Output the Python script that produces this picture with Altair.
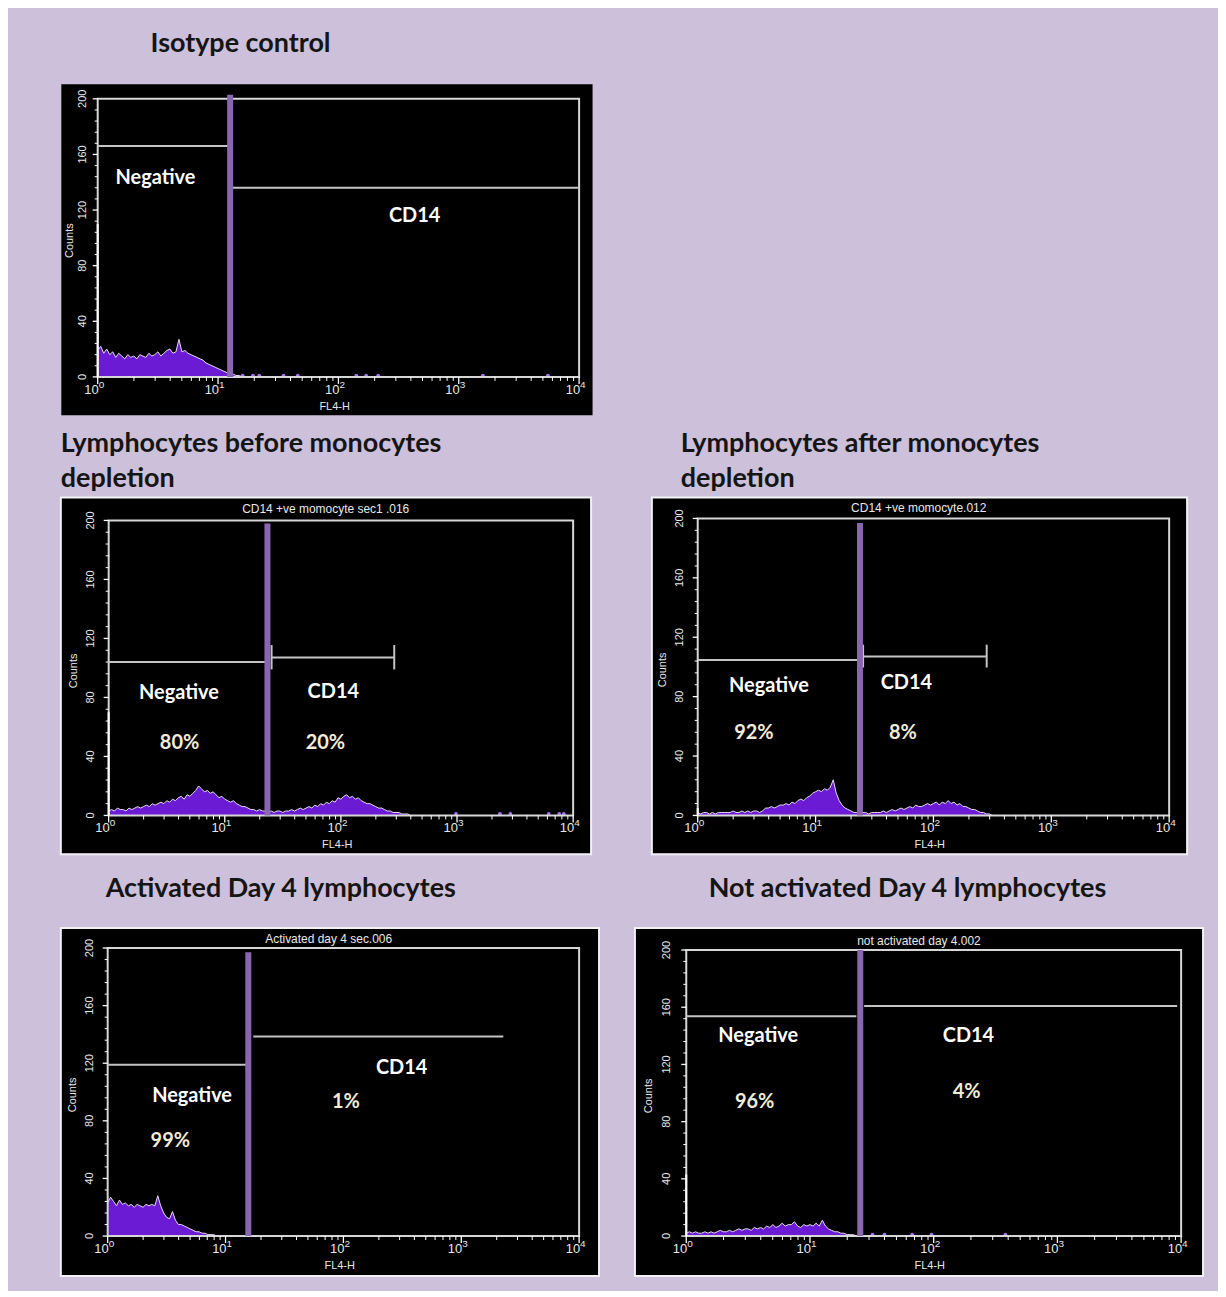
import altair as alt
import pandas as pd

# ---------------- data ----------------
CH_PER_DECADE = 40  # histogram channel i sits at FL4-H = 10 ** (i / 40)

HIST_ISOTYPE = [19, 22, 17, 20, 16, 18, 14, 17, 15, 13,
                16, 14, 15, 13, 16, 15, 14, 17, 15, 16,
                18, 15, 17, 19, 20, 17, 18, 27, 18, 19,
                17, 16, 15, 14, 13, 12, 10, 9, 8, 7,
                6, 5, 4, 3, 2, 2, 1, 1, 0]
HIST_BEFORE = [3, 4, 3, 5, 4, 4, 3, 5, 4, 5,
               6, 5, 6, 7, 6, 8, 7, 8, 9, 8,
               10, 9, 11, 10, 12, 13, 11, 14, 13, 15,
               17, 20, 18, 16, 17, 15, 16, 14, 12, 13,
               11, 10, 9, 10, 8, 7, 6, 6, 5, 4,
               4, 3, 4, 3, 3, 2, 3, 2, 3, 3,
               2, 3, 3, 4, 3, 4, 5, 4, 5, 6,
               5, 7, 6, 8, 7, 9, 8, 10, 9, 12,
               11, 13, 14, 12, 13, 11, 12, 10, 9, 8,
               8, 7, 6, 5, 5, 4, 3, 3, 2, 2,
               2, 1, 1, 1, 0, 0]
HIST_AFTER = [2, 1, 2, 2, 1, 2, 1, 2, 2, 2,
              2, 2, 3, 2, 2, 3, 2, 3, 2, 3,
              3, 2, 3, 5, 5, 6, 5, 6, 7, 7,
              8, 7, 9, 8, 10, 11, 10, 12, 13, 15,
              16, 17, 16, 18, 17, 19, 24, 15, 10, 7,
              5, 4, 3, 2, 2, 1, 2, 2, 1, 2,
              2, 2, 2, 3, 2, 3, 4, 3, 4, 5,
              4, 5, 6, 5, 7, 6, 6, 7, 8, 7,
              8, 9, 7, 9, 8, 10, 8, 9, 7, 8,
              6, 6, 5, 4, 4, 3, 2, 2, 1, 1,
              0, 0]
HIST_ACTIVATED = [23, 27, 24, 21, 25, 22, 23, 21, 22, 20,
                  22, 21, 20, 22, 21, 22, 21, 28, 21, 16,
                  13, 12, 17, 11, 8, 8, 7, 6, 5, 4,
                  3, 3, 2, 2, 1, 1, 1, 0]
HIST_NOT_ACTIVATED = [2, 3, 2, 3, 2, 2, 3, 2, 3, 2,
                      3, 4, 3, 3, 4, 3, 4, 5, 4, 5,
                      5, 4, 6, 5, 6, 5, 7, 6, 8, 6,
                      7, 9, 7, 8, 8, 10, 7, 6, 8, 7,
                      8, 7, 9, 7, 11, 7, 5, 4, 3, 3,
                      2, 2, 1, 1, 1, 0, 0]
HISTS = [HIST_ISOTYPE, HIST_BEFORE, HIST_AFTER, HIST_ACTIVATED, HIST_NOT_ACTIVATED]

FIRST_CHANNEL = [110, 70, 5, 0, 43]

SPARSE_EVENTS = [
    [16, 19.5, 22, 35, 46, 141, 170, 214, 1585, 5500],
    [980, 2340, 2880, 6170, 7590, 8320],
    [],
    [],
    [32, 40, 67, 96, 380],
]

HEADINGS = [
    ["Isotype control"],
    ["Lymphocytes before monocytes", "depletion"],
    ["Lymphocytes after monocytes", "depletion"],
    ["Activated Day 4 lymphocytes"],
    ["Not activated Day 4 lymphocytes"],
]
INNER_TITLES = ["", "CD14 +ve momocyte sec1 .016", "CD14 +ve momocyte.012",
                "Activated day 4 sec.006", "not activated day 4.002"]
INNER_TITLE_AT = [(100, 207), (74, 207.5), (75, 207), (75, 206), (76, 206)]

GATE_X = [12.6, 23.3, 23.8, 15.6, 25.5]
GATE_TOP = [203, 198, 197, 197, 200]
NEG_GATE = [(1, 12.6, 166), (1, 23.3, 104), (1, 23.8, 104.7), (1, 15.6, 119), (1, 23.7, 153.6)]
CD14_GATE = [(12.6, 10000, 136), (25.3, 288, 107), (25.3, 283, 107), (17.2, 2275, 138.6), (27.4, 9290, 160.8)]
CD14_CAPS = [None, (99, 115.5), (99.6, 115), None, None]

NAME_LABELS = [
    [("Negative", 3.02, 143), ("CD14", 430, 116)],
    [("Negative", 4.03, 83), ("CD14", 86, 84)],
    [("Negative", 4.02, 87), ("CD14", 58.9, 89)],
    [("Negative", 5.2, 97), ("CD14", 312, 117)],
    [("Negative", 3.81, 140), ("CD14", 191, 140)],
]
PCT_LABELS = [
    [],
    [("80%", 4.08, 49), ("20%", 73.6, 49)],
    [("92%", 3.0, 55.5), ("8%", 55, 55.5)],
    [("99%", 3.4, 66), ("1%", 105, 93)],
    [("96%", 3.57, 94), ("4%", 185, 101)],
]

X_MAJOR = [1, 10, 100, 1000, 10000]
X_BASE = ["10", "10", "10", "10", "10"]
X_EXP = ["0", "1", "2", "3", "4"]
Y_MAJOR = [0, 40, 80, 120, 160, 200]
Y_LABELS = ["0", "40", "80", "120", "160", "200"]
X_TITLE = ("FL4-H", 93)      # text, FL4-H position of its centre
Y_TITLE = ("Counts", 98)     # text, count position of its centre

# ---------------- layout / style ----------------
# (box width, box height, frame inset left, right, top, bottom) in px
GEOM = [
    (533, 332, 37, 13, 15, 38),
    (532, 358, 48, 18, 23, 39),
    (537, 358, 46, 18, 21, 39),
    (540, 349, 47, 20, 20, 40),
    (570, 349, 51.5, 22, 22, 40),
]
TITLE_DX = [90, 0, 29, 45, 74]
TITLE_OFFSET = [26, 5, 5, 25, 25]
BOX_STROKE = [0, 2, 2, 2, 2]
YLAB_SHIFT = [-15, -18, -18, -18, -19]
YTITLE_SHIFT = [-28, -35, -35, -35, -37]

LAVENDER = "#CCC0DA"
PURPLE = "#6A1BD3"
OUTLINE = "#E4DCF2"
GATE_PURPLE = "#8B66B0"
GATE_LINE = "#C4C4C4"
FRAME = "#D6D6D6"
TXT = "#E8E8E8"
AXFONT = "Liberation Sans"


def make_panel(k):
    W, H, fl, fr, ft, fb = GEOM[k]
    ppd = (W - fl - fr) / 4.0
    ppc = (H - ft - fb) / 200.0
    xs = alt.Scale(type="log", domain=[10 ** (-fl / ppd), 10 ** (4 + fr / ppd)], nice=False)
    ys = alt.Scale(domain=[-fb / ppc, 200 + ft / ppc], nice=False, zero=False)

    def X(f="x"):
        return alt.X(f"{f}:Q", scale=xs, axis=None)

    def Y(f="y"):
        return alt.Y(f"{f}:Q", scale=ys, axis=None)

    layers = []
    hist = HISTS[k]
    hdf = pd.DataFrame({"x": [10 ** (i / CH_PER_DECADE) for i in range(len(hist))], "y": hist})
    layers.append(alt.Chart(hdf).mark_area(color=PURPLE, opacity=1).encode(
        x=X(), y=Y(), y2=alt.Y2(datum=0)))
    layers.append(alt.Chart(hdf).mark_line(color=OUTLINE, strokeWidth=1).encode(x=X(), y=Y()))

    if SPARSE_EVENTS[k]:
        sdf = pd.DataFrame({"x": SPARSE_EVENTS[k], "y": [1] * len(SPARSE_EVENTS[k])})
        layers.append(alt.Chart(sdf).mark_circle(size=14, color="#A476F2", opacity=1).encode(x=X(), y=Y()))

    # frame of the plotting region
    fdf = pd.DataFrame({"x": [1], "x2": [10000], "y": [0], "y2": [200]})
    layers.append(alt.Chart(fdf).mark_rect(fillOpacity=0, stroke=FRAME, strokeWidth=2).encode(
        x=X(), x2=alt.X2("x2:Q"), y=Y(), y2=alt.Y2("y2:Q")))

    # ticks (major + minor), drawn through the scales
    minor_x = [m * 10 ** d for d in range(4) for m in range(2, 10)]
    mx = pd.DataFrame({"x": minor_x, "y": [0] * len(minor_x), "y2": [-4 / ppc] * len(minor_x)})
    layers.append(alt.Chart(mx).mark_rule(color="white", strokeWidth=1).encode(
        x=X(), y=Y(), y2=alt.Y2("y2:Q")))
    Mx = pd.DataFrame({"x": X_MAJOR, "y": [0] * 5, "y2": [-7 / ppc] * 5})
    layers.append(alt.Chart(Mx).mark_rule(color="white", strokeWidth=1.3).encode(
        x=X(), y=Y(), y2=alt.Y2("y2:Q")))
    minor_y = [v for v in range(8, 200, 8) if v % 40]
    my = pd.DataFrame({"y": minor_y, "x": [1] * len(minor_y), "x2": [10 ** (-3 / ppd)] * len(minor_y)})
    layers.append(alt.Chart(my).mark_rule(color="white", strokeWidth=1).encode(
        y=Y(), x=X(), x2=alt.X2("x2:Q")))
    My = pd.DataFrame({"y": Y_MAJOR, "x": [1] * 6, "x2": [10 ** (-5 / ppd)] * 6})
    layers.append(alt.Chart(My).mark_rule(color="white", strokeWidth=1.3).encode(
        y=Y(), x=X(), x2=alt.X2("x2:Q")))

    # tick labels (10 with a raised exponent) and axis titles
    xl = pd.DataFrame({"x": X_MAJOR, "y": [0] * 5, "t": X_BASE, "e": X_EXP})
    layers.append(alt.Chart(xl).mark_text(font=AXFONT, fontSize=13, color=TXT, dy=13, dx=1,
                                          baseline="middle", align="right").encode(
        x=X(), y=Y(), text="t:N"))
    layers.append(alt.Chart(xl).mark_text(font=AXFONT, fontSize=10, color=TXT, dy=8, dx=1,
                                          baseline="middle", align="left").encode(
        x=X(), y=Y(), text="e:N"))
    yl = pd.DataFrame({"x": [1] * 6, "y": Y_MAJOR, "t": Y_LABELS})
    layers.append(alt.Chart(yl).mark_text(font=AXFONT, fontSize=11, color=TXT, angle=270,
                                          dy=YLAB_SHIFT[k], baseline="middle", align="center").encode(
        x=X(), y=Y(), text="t:N"))
    xt = pd.DataFrame({"x": [X_TITLE[1]], "y": [0], "t": [X_TITLE[0]]})
    layers.append(alt.Chart(xt).mark_text(font=AXFONT, fontSize=11, color=TXT, dy=30,
                                          baseline="middle", align="center").encode(
        x=X(), y=Y(), text="t:N"))
    yt = pd.DataFrame({"x": [1], "y": [Y_TITLE[1]], "t": [Y_TITLE[0]]})
    layers.append(alt.Chart(yt).mark_text(font=AXFONT, fontSize=11, color=TXT, angle=270,
                                          dy=YTITLE_SHIFT[k], baseline="middle", align="center").encode(
        x=X(), y=Y(), text="t:N"))

    if FIRST_CHANNEL[k] > 0:
        cdf = pd.DataFrame({"x": [1.0], "y": [0], "y2": [FIRST_CHANNEL[k]]})
        layers.append(alt.Chart(cdf).mark_rule(color="white", strokeWidth=2).encode(
            x=X(), y=Y(), y2=alt.Y2("y2:Q")))

    # gates
    a, b, yy = NEG_GATE[k]
    c, d, y2 = CD14_GATE[k]
    gdf = pd.DataFrame({"x": [a, c], "x2": [b, d], "y": [yy, y2]})
    layers.append(alt.Chart(gdf).mark_rule(color=GATE_LINE, strokeWidth=2).encode(
        x=X(), x2=alt.X2("x2:Q"), y=Y()))
    if CD14_CAPS[k]:
        lo, hi = CD14_CAPS[k]
        capdf = pd.DataFrame({"x": [c, d], "y": [lo, lo], "y2": [hi, hi]})
        layers.append(alt.Chart(capdf).mark_rule(color=GATE_LINE, strokeWidth=2).encode(
            x=X(), y=Y(), y2=alt.Y2("y2:Q")))
    vdf = pd.DataFrame({"x": [GATE_X[k]], "y": [0], "y2": [GATE_TOP[k]]})
    layers.append(alt.Chart(vdf).mark_rule(color=GATE_PURPLE, strokeWidth=6).encode(
        x=X(), y=Y(), y2=alt.Y2("y2:Q")))

    # region labels
    ndf = pd.DataFrame(NAME_LABELS[k], columns=["t", "x", "y"])
    layers.append(alt.Chart(ndf).mark_text(font="Lato", fontWeight="bold", fontSize=20,
                                           color="white", align="center", baseline="middle").encode(
        x=X(), y=Y(), text="t:N"))
    if PCT_LABELS[k]:
        pdf_ = pd.DataFrame(PCT_LABELS[k], columns=["t", "x", "y"])
        layers.append(alt.Chart(pdf_).mark_text(font="Lato", fontWeight="bold", fontSize=20,
                                                color="#F1ECD8", align="center", baseline="middle").encode(
            x=X(), y=Y(), text="t:N"))
    if INNER_TITLES[k]:
        tx, ty = INNER_TITLE_AT[k]
        tdf = pd.DataFrame({"t": [INNER_TITLES[k]], "x": [tx], "y": [ty]})
        layers.append(alt.Chart(tdf).mark_text(font=AXFONT, fontSize=12, color=TXT,
                                               align="center", baseline="middle").encode(
            x=X(), y=Y(), text="t:N"))

    view = alt.ViewBackground(fill="black", stroke="#F2F2F6", strokeWidth=BOX_STROKE[k])
    if BOX_STROKE[k] == 0:
        view = alt.ViewBackground(fill="black", strokeOpacity=0)
    return alt.layer(*layers).properties(
        width=W, height=H, view=view,
        title=alt.TitleParams(text=HEADINGS[k], anchor="start", frame="group", dx=TITLE_DX[k],
                              offset=TITLE_OFFSET[k], font="Lato", fontSize=27, fontWeight="bold",
                              color="#151515", lineHeight=35),
    )


panels = [make_panel(k) for k in range(5)]

row2 = alt.hconcat(panels[1], panels[2], spacing=59).resolve_scale(x="independent", y="independent")
row3 = alt.hconcat(panels[3], panels[4], spacing=34).resolve_scale(x="independent", y="independent")
lower = alt.vconcat(row2, row3, spacing=19).resolve_scale(x="independent", y="independent")
chart = alt.vconcat(panels[0], lower, spacing=14).resolve_scale(
    x="independent", y="independent"
).properties(
    background=LAVENDER,
    padding={"left": 52, "top": 20, "right": 14, "bottom": 12},
)

chart.save("out.html", embed_options={"renderer": "svg", "actions": False})
